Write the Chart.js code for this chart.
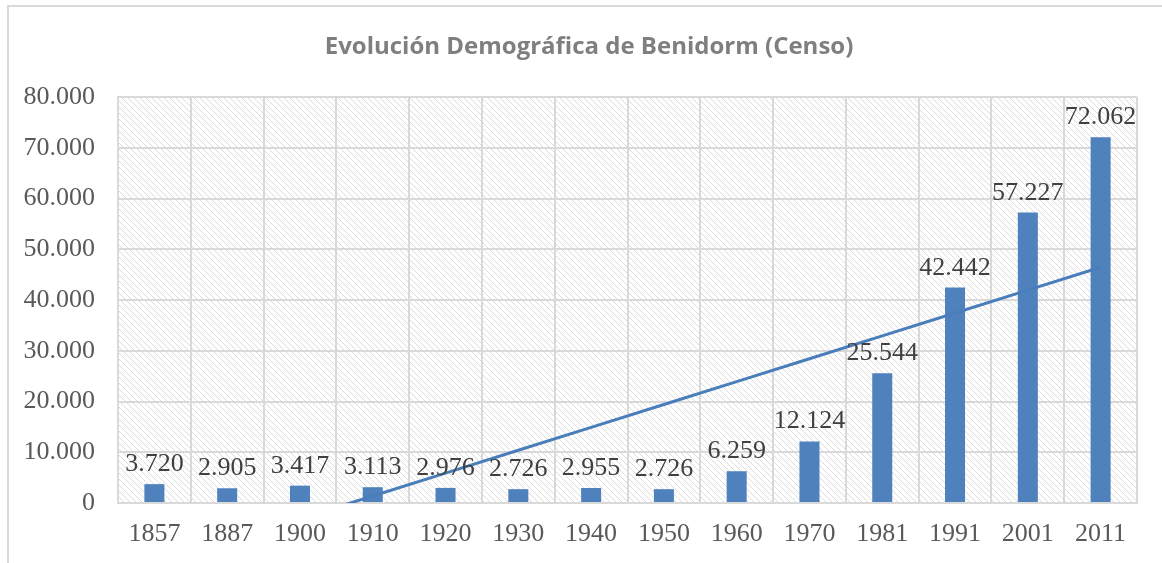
<!DOCTYPE html>
<html lang="es">
<head>
<meta charset="utf-8">
<title>Evolución Demográfica de Benidorm (Censo)</title>
<script src="https://cdn.jsdelivr.net/npm/chart.js@4"></script>
<style>
  html, body { margin: 0; padding: 0; background: #fff; }
  #wrap { width: 1162px; height: 563px; position: relative; }
</style>
</head>
<body>
<div id="wrap"><canvas id="chart" width="1162" height="563"></canvas></div>
<script>
'use strict';

// Data
const years      = ['1857','1887','1900','1910','1920','1930','1940','1950','1960','1970','1981','1991','2001','2011'];
const population = [3720, 2905, 3417, 3113, 2976, 2726, 2955, 2726, 6259, 12124, 25544, 42442, 57227, 72062];
const yMin  = 0;
const yMax  = 80000;
const yStep = 10000;
const chartTitle = 'Evolución Demográfica de Benidorm (Censo)';

// Linear trendline (least squares over category index, like Excel)
function linearTrend(vals) {
  const n = vals.length;
  const mx = (n - 1) / 2;
  const my = vals.reduce((a, b) => a + b, 0) / n;
  let sxy = 0, sxx = 0;
  vals.forEach((v, i) => { sxy += (i - mx) * (v - my); sxx += (i - mx) ** 2; });
  const slope = sxy / sxx;
  return vals.map((_, i) => my + slope * (i - mx));
}
const trend = linearTrend(population);

const fmt = v => String(Math.round(v)).replace(/\B(?=(\d{3})+(?!\d))/g, '.');

const BLUE   = '#4f81bd';
const GRID   = '#d9d9d9';
const SERIF  = '"Liberation Serif", "DejaVu Serif", serif';

// Hatched plot-area background
function hatchPattern(ctx) {
  const c = document.createElement('canvas');
  c.width = 6; c.height = 6;
  const g = c.getContext('2d');
  g.strokeStyle = '#dcdcdc';
  g.lineWidth = 1;
  g.beginPath();
  g.moveTo(-1, -1); g.lineTo(7, 7);
  g.moveTo(-1, 5);  g.lineTo(1, 7);
  g.moveTo(5, -1);  g.lineTo(7, 1);
  g.stroke();
  return ctx.createPattern(c, 'repeat');
}

const backdrop = {
  id: 'backdrop',
  beforeDraw(chart) {
    const { ctx, chartArea: a } = chart;
    ctx.save();
    ctx.fillStyle = '#fff';
    ctx.fillRect(0, 0, chart.width, chart.height);
    // outer frame
    ctx.strokeStyle = GRID;
    ctx.lineWidth = 2;
    ctx.beginPath();
    ctx.moveTo(8, chart.height);
    ctx.lineTo(8, 6);
    ctx.lineTo(chart.width, 6);
    ctx.stroke();
    // hatch
    ctx.fillStyle = hatchPattern(ctx);
    ctx.fillRect(a.left, a.top, a.right - a.left, a.bottom - a.top);
    // title
    ctx.fillStyle = '#7f7f7f';
    ctx.font = 'bold 24px "Open Sans", "Liberation Sans", sans-serif';
    ctx.textAlign = 'center';
    ctx.textBaseline = 'middle';
    ctx.fillText(chartTitle, 589, 47);
    ctx.restore();
  }
};

const barLabels = {
  id: 'barLabels',
  afterDatasetsDraw(chart) {
    const { ctx } = chart;
    const meta = chart.getDatasetMeta(1);
    ctx.save();
    ctx.fillStyle = '#404040';
    ctx.font = '26px ' + SERIF;
    ctx.textAlign = 'center';
    ctx.textBaseline = 'alphabetic';
    meta.data.forEach((bar, i) => {
      ctx.fillText(fmt(population[i]), bar.x, bar.y - 13);
    });
    ctx.restore();
  }
};

new Chart(document.getElementById('chart'), {
  data: {
    labels: years,
    datasets: [
      {
        type: 'line',
        label: 'Tendencia',
        data: trend,
        borderColor: '#4a7ebb',
        borderWidth: 3,
        pointRadius: 0,
        tension: 0,
        order: 0
      },
      {
        type: 'bar',
        label: 'Población',
        data: population,
        backgroundColor: BLUE,
        barPercentage: 0.55,
        categoryPercentage: 0.5,
        order: 1
      }
    ]
  },
  options: {
    responsive: false,
    animation: false,
    layout: { padding: { left: 10, right: 25, top: 97, bottom: 0 } },
    plugins: {
      legend: { display: false },
      tooltip: { enabled: false },
      title: { display: false }
    },
    scales: {
      x: {
        grid: { color: GRID, lineWidth: 2, drawTicks: false, offset: true },
        border: { display: true, color: GRID, width: 2 },
        ticks: { color: '#595959', font: { family: SERIF, size: 26 }, padding: 16, maxRotation: 0 },
        afterFit: s => { s.height = 60; }
      },
      y: {
        min: yMin,
        max: yMax,
        grid: { color: GRID, lineWidth: 2, drawTicks: false },
        border: { display: true, color: GRID, width: 2 },
        ticks: { stepSize: yStep, color: '#595959', font: { family: SERIF, size: 26 }, padding: 23, callback: v => fmt(v) },
        afterFit: s => { s.width = 108; }
      }
    }
  },
  plugins: [backdrop, barLabels]
});
</script>
</body>
</html>
